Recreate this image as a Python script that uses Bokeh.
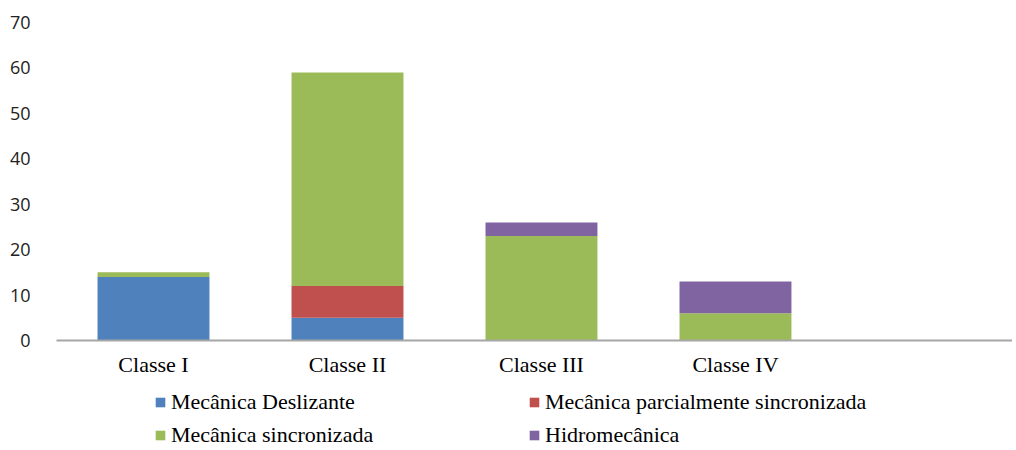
from bokeh.plotting import figure
from bokeh.layouts import column
from bokeh.models import ColumnDataSource, Range1d, FixedTicker, Legend, LegendItem
from bokeh.embed import file_html
from bokeh.resources import INLINE

categories = ["Classe I", "Classe II", "Classe III", "Classe IV"]
series = ["Mecânica Deslizante", "Mecânica parcialmente sincronizada",
          "Mecânica sincronizada", "Hidromecânica"]
deslizante = [14, 5, 0, 0]
parcial = [0, 7, 0, 0]
sincronizada = [1, 47, 23, 6]
hidro = [0, 0, 3, 7]
colors = ["#4F81BD", "#C0504D", "#9BBB59", "#8064A2"]
y_ticks = [0, 10, 20, 30, 40, 50, 60, 70]

xpos = list(range(1, len(categories) + 1))
keys = ["s0", "s1", "s2", "s3"]
source = ColumnDataSource(data=dict(x=xpos, s0=deslizante, s1=parcial,
                                    s2=sincronizada, s3=hidro))

p = figure(width=1012, height=379, output_backend="svg", toolbar_location=None,
           x_range=Range1d(0.5, 5.428), y_range=Range1d(0, 70),
           min_border_left=56, min_border_top=22, min_border_right=0,
           min_border_bottom=30)

rs = p.vbar_stack(keys, x="x", width=0.577, source=source, color=colors,
                  line_color=None)

p.xgrid.visible = False
p.ygrid.visible = False
p.outline_line_color = None

p.xaxis.ticker = FixedTicker(ticks=xpos)
p.xaxis.major_label_overrides = {x: c for x, c in zip(xpos, categories)}
p.xaxis.major_tick_line_color = None
p.xaxis.minor_tick_line_color = None
p.xaxis.axis_line_color = "#a6a6a6"
p.xaxis.axis_line_width = 2
p.xaxis.major_label_text_font = "Liberation Serif"
p.xaxis.major_label_text_font_size = "22px"
p.xaxis.major_label_text_color = "#000000"
p.xaxis.major_label_standoff = 5

p.yaxis.ticker = FixedTicker(ticks=y_ticks)
p.yaxis.axis_line_color = None
p.yaxis.major_tick_line_color = None
p.yaxis.minor_tick_line_color = None
p.yaxis.major_label_text_font = "Open Sans"
p.yaxis.major_label_text_font_size = "18px"
p.yaxis.major_label_text_color = "#222222"
p.yaxis.major_label_standoff = 20

# legend panel (same data, kept far out of view; only its legend shows)
p2 = figure(width=1012, height=71, output_backend="svg", toolbar_location=None,
            x_range=Range1d(100, 101), y_range=Range1d(1000, 1001),
            x_axis_type=None, y_axis_type=None,
            min_border_left=56, min_border_top=0, min_border_right=0,
            min_border_bottom=0)
p2.xgrid.visible = False
p2.ygrid.visible = False
p2.outline_line_color = None

rs2 = p2.vbar_stack(keys, x="x", width=0.577, source=source, color=colors,
                    line_color=None)
items = [LegendItem(label=s, renderers=[r]) for s, r in zip(series, rs2)]
legend = Legend(items=items, ncols=2, orientation="horizontal",
                location=(98, 2), border_line_color=None,
                background_fill_alpha=0,
                label_text_font="Liberation Serif", label_text_font_size="22px",
                label_text_color="#000000", label_height=26,
                glyph_width=12, glyph_height=12, label_standoff=5,
                label_width=350, spacing=7, padding=4, margin=0)
p2.add_layout(legend)

layout = column(p, p2, spacing=0)
open("out.html", "w").write(file_html(layout, INLINE))
